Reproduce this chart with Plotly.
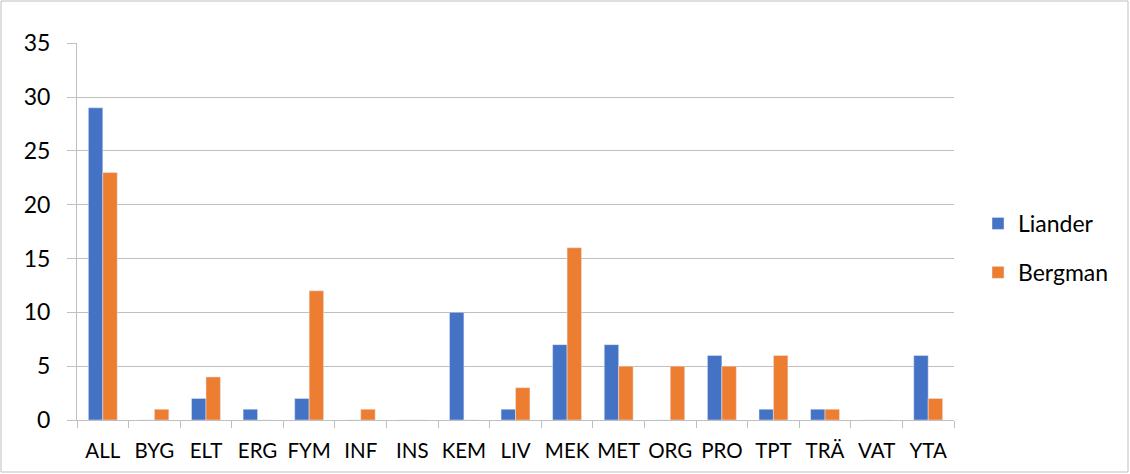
import plotly.graph_objects as go

categories = ["ALL", "BYG", "ELT", "ERG", "FYM", "INF", "INS", "KEM", "LIV",
              "MEK", "MET", "ORG", "PRO", "TPT", "TRÄ", "VAT", "YTA"]
liander = [29, 0, 2, 1, 2, 0, 0, 10, 1, 7, 7, 0, 6, 1, 1, 0, 6]
bergman = [23, 1, 4, 0, 12, 1, 0, 0, 3, 16, 5, 5, 5, 6, 1, 0, 2]
y_ticks = [0, 5, 10, 15, 20, 25, 30, 35]

FONT = "Lato"
GRID = "#BFBFBF"

fig = go.Figure()
fig.add_trace(go.Bar(x=categories, y=liander, name="Liander",
                     marker_color="#4472C4", legendgroup="a"))
fig.add_trace(go.Bar(x=categories, y=bergman, name="Bergman",
                     marker_color="#ED7D31", legendgroup="b"))

L, R, T, B = 77, 176, 43, 54
W, H = 1130, 474
pw, ph = W - L - R, H - T - B

def px(x):
    return (x - L) / pw

def py(y):
    return (H - B - y) / ph

fig.add_shape(type="rect", xref="paper", yref="paper",
              x0=px(1), x1=px(1128), y0=py(1), y1=py(472),
              line=dict(color="#BFBFBF", width=1), layer="below")

fig.update_layout(
    width=W, height=H,
    margin=dict(l=L, r=R, t=T, b=B, autoexpand=False),
    paper_bgcolor="white", plot_bgcolor="white",
    barmode="group", bargap=0.44, bargroupgap=0,
    font=dict(family=FONT, size=21, color="#000000"),
    legend=dict(x=px(978), y=py(202), xanchor="left", yanchor="top",
                tracegroupgap=16, font=dict(family=FONT, size=23),
                itemwidth=30),
    showlegend=True,
)
fig.update_xaxes(type="category", showline=True, linecolor=GRID, linewidth=1,
                 ticks="outside", tickson="boundaries", ticklen=7, tickcolor=GRID,
                 showgrid=False, ticklabelstandoff=12, tickangle=0, automargin=False,
                 tickfont=dict(family=FONT, size=20.5))
fig.update_yaxes(range=[0, 35.02], tickvals=y_ticks, showline=True, linecolor=GRID,
                 linewidth=1, ticks="outside", ticklen=9, tickcolor=GRID,
                 showgrid=True, gridcolor=GRID, gridwidth=1, zeroline=False,
                 automargin=False,
                 ticklabelstandoff=12, tickfont=dict(family=FONT, size=23))

fig.write_html("out.html", config={"displayModeBar": False},
               post_script="document.body.style.margin='0';document.body.style.overflow='hidden';")
